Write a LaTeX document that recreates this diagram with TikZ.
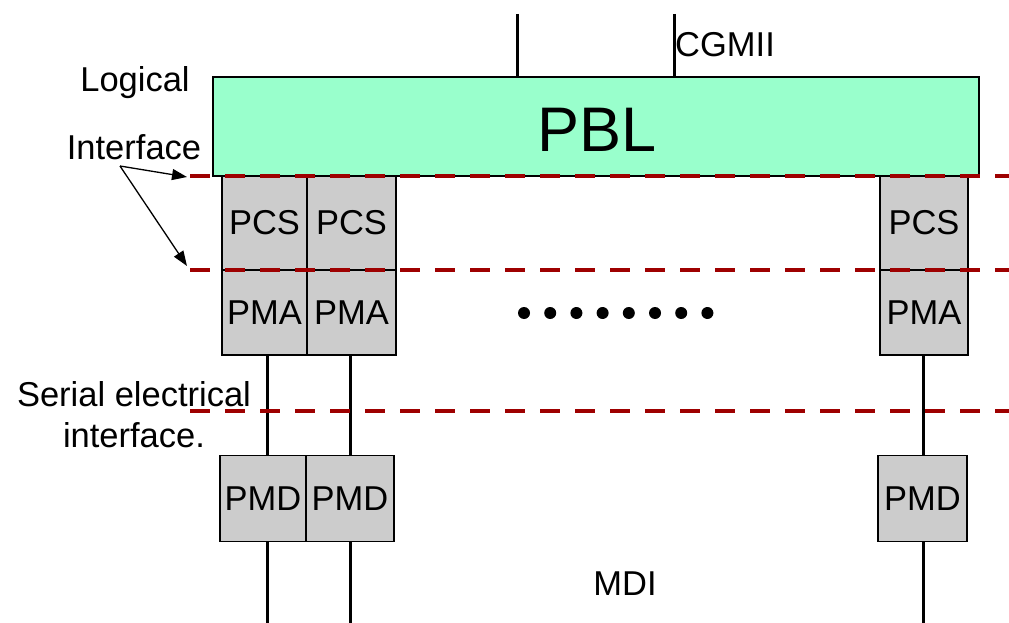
\documentclass[tikz,border=0pt]{standalone}
\usepackage{fontspec}
\setmainfont{Liberation Sans}
\usetikzlibrary{arrows.meta}
\definecolor{pblgreen}{HTML}{99FFCC}
\definecolor{cellgray}{HTML}{CCCCCC}
\definecolor{ifred}{HTML}{9E0000}
\begin{document}
\begin{tikzpicture}[x=1pt,y=-1pt,
  cell/.style={draw=black,line width=1.5pt,fill=cellgray,inner sep=0pt,
    font=\fontsize{34.5}{37}\selectfont},
  wire/.style={line width=3pt},
  ifline/.style={draw=ifred,line width=4pt,dash pattern=on 20pt off 15pt},
  lbl/.style={font=\fontsize{34.5}{41}\selectfont,inner sep=0pt,align=center},
  pointer/.style={line width=1.3pt,-{Triangle[length=15pt,width=11pt]}}]
\useasboundingbox (0,0) rectangle (1009,623);

% PBL block and its upper interface
\node[draw=black,line width=1.5pt,fill=pblgreen,minimum width=766pt,minimum height=99pt,
  inner sep=0pt] (pbl) at (596,126.5) {};
\node[font=\fontsize{63}{66}\selectfont,inner sep=0pt] (pbltxt) at (597,130) {PBL};
\coordinate (gA) at (517,14);
\coordinate (gB) at (674,14);
\draw[wire] (gA) -- (gA |- pbl.north);
\draw[wire] (gB) -- (gB |- pbl.north);
\node[lbl,anchor=west] (cgmii) at (675,45) {CGMII};

% PCS / PMA stacks
\node[cell,minimum width=85pt,minimum height=94pt] (pcs1) at (264.5,223) {PCS};
\node[cell,minimum width=89pt,minimum height=94pt] (pcs2) at (351.5,223) {PCS};
\node[cell,minimum width=88pt,minimum height=94pt] (pcs3) at (924,223) {PCS};
\node[cell,minimum width=85pt,minimum height=85pt] (pma1) at (264.5,312.5) {PMA};
\node[cell,minimum width=89pt,minimum height=85pt] (pma2) at (351.5,312.5) {PMA};
\node[cell,minimum width=88pt,minimum height=85pt] (pma3) at (924,312.5) {PMA};

% PMD blocks
\node[cell,minimum width=86pt,minimum height=86pt] (pmd1) at (263,498.5) {PMD};
\node[cell,minimum width=88pt,minimum height=86pt] (pmd2) at (350,498.5) {PMD};
\node[cell,minimum width=89pt,minimum height=86pt] (pmd3) at (922.5,498.5) {PMD};

% serial links and medium side lines
\coordinate (m1) at (267,623);
\coordinate (m2) at (350,623);
\coordinate (m3) at (923,623);
\draw[wire] (m1 |- pma1.south) -- (m1 |- pmd1.north);
\draw[wire] (m2 |- pma2.south) -- (m2 |- pmd2.north);
\draw[wire] (m3 |- pma3.south) -- (m3 |- pmd3.north);
\draw[wire] (m1 |- pmd1.south) -- (m1);
\draw[wire] (m2 |- pmd2.south) -- (m2);
\draw[wire] (m3 |- pmd3.south) -- (m3);

% interface levels
\coordinate (i1) at (190,176);
\coordinate (i2) at (190,270);
\coordinate (i3) at (190,411);
\draw[ifline] (i1) -- (1009,176);
\draw[ifline] (i2) -- (1009,270);
\draw[ifline] (i3) -- (1009,411);

% ellipsis of further lanes
\foreach \k in {0,...,7}
  \fill (524+26.2*\k,313) circle (6pt);

% labels
\node[lbl] (logical) at (135,83) {Logical};
\node[lbl] (iface) at (134,147) {Interface};
\coordinate (ptr) at (120,166);
\draw[pointer] (ptr) -- (187,177);
\draw[pointer] (ptr) -- (187,266);
\node[lbl] (serial) at (134,415) {Serial electrical\\interface.};
\node[lbl] (mdi) at (625,584) {MDI};
\end{tikzpicture}
\end{document}
